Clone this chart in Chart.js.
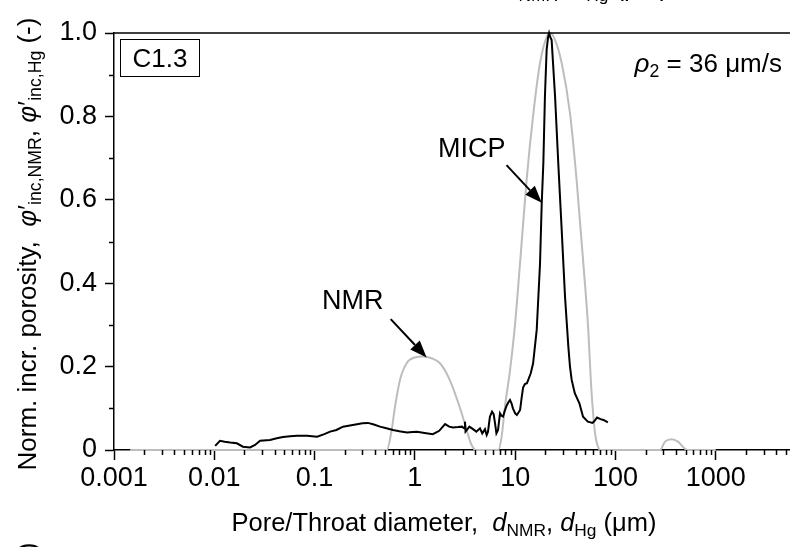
<!DOCTYPE html>
<html lang="en">
  <head>
    <meta charset="UTF-8" />
    <title>C1.3 NMR / MICP</title>
    <style>
      body { margin: 0; background: #fff; }
      .my-box {
        position: relative;
        width: 790px;
        height: 547px;
        overflow: hidden;
        font-family: "Liberation Sans", Arial, sans-serif;
        color: #000;
      }
      .lbl { position: absolute; white-space: nowrap; font-size: 26px; line-height: 1; }
      .lbl sub { font-size: 68%; vertical-align: -0.28em; line-height: 0; }
      .ytitle { left: 27px; top: 244px; transform: translate(-50%, -50%) rotate(-90deg); font-size: 26px; }
      .xtitle { left: 444px; top: 523px; transform: translate(-50%, -50%); font-size: 25.5px; }
      .box { left: 120px; top: 39px; width: 78px; height: 36px; border: 1.5px solid #000; text-align: center; line-height: 36px; }
    </style>
  </head>
  <body>
    <div class="my-box">
      <canvas id="myChart"></canvas>

      <div class="lbl ytitle">Norm. incr. porosity, &nbsp;<i>φ</i>′<sub>inc,NMR</sub>, <i>φ</i>′<sub>inc,Hg</sub> (-)</div>
      <div class="lbl xtitle">Pore/Throat diameter, &nbsp;<i>d</i><sub>NMR</sub>, <i>d</i><sub>Hg</sub> (μm)</div>
      <!-- bits of the neighbouring panels that the crop cuts through -->
      <div class="lbl xtitle" style="top: -12px; left: 456px">Pore/Throat diameter, &nbsp;<i>d</i><sub>NMR</sub>, <i>d</i><sub>Hg</sub> (μm)</div>
      <div class="lbl ytitle" style="top: 769px">Norm. incr. porosity, &nbsp;<i>φ</i>′<sub>inc,NMR</sub>, <i>φ</i>′<sub>inc,Hg</sub> (-)</div>

      <div class="lbl box">C1.3</div>
      <div class="lbl" style="right: 8px; top: 50px"><i>ρ</i><sub>2</sub> = 36 μm/s</div>
      <div class="lbl" style="left: 438px; top: 135px; font-size: 27px">MICP</div>
      <div class="lbl" style="left: 322px; top: 287px; font-size: 27px">NMR</div>
    </div>

    <script src="https://cdn.jsdelivr.net/npm/chart.js"></script>

    <script>
      // MICP (mercury intrusion), black
      const micpD = [
        0.0102, 0.0114, 0.0127, 0.0144, 0.0168, 0.0193, 0.0227, 0.0255, 0.0286, 0.0359,
        0.042, 0.0484, 0.057, 0.0668, 0.084, 0.106, 0.125, 0.143, 0.165, 0.192,
        0.225, 0.265, 0.3, 0.34, 0.39, 0.449, 0.52, 0.605, 0.7, 0.834,
        0.95, 1.05, 1.25, 1.51, 1.75, 2.0, 2.2, 2.4, 2.7, 2.95,
        3.1, 3.16, 3.2, 3.5, 3.8, 4.1, 4.46, 4.7, 5.0, 5.2,
        5.36, 5.6, 5.88, 6.1, 6.3, 6.5, 6.75, 7.06, 7.3, 7.57,
        7.9, 8.28, 8.6, 8.88, 9.2, 9.5, 10.0, 10.4, 10.8, 11.2,
        11.6, 12.0, 12.5, 13.1, 13.5, 14.3, 15.1, 16.4, 17.7, 18.4,
        19.1, 19.8, 20.6, 21.3, 21.8, 22.4, 23.1, 25.0, 26.9, 29.1,
        31.4, 33.9, 35.2, 36.6, 39.3, 43.7, 47.5, 53.0, 59.0, 62.0,
        65.5, 71.0, 76.0, 84.0,
      ];
      const micpPhi = [
        0.01, 0.022, 0.02, 0.018, 0.016, 0.008, 0.006, 0.012, 0.022, 0.024,
        0.028, 0.031, 0.033, 0.034, 0.034, 0.032, 0.038, 0.044, 0.048, 0.056,
        0.059, 0.062, 0.064, 0.065, 0.061, 0.056, 0.052, 0.048, 0.045, 0.042,
        0.043, 0.044, 0.041, 0.038, 0.046, 0.062, 0.056, 0.054, 0.055, 0.056,
        0.052, 0.068, 0.044, 0.056, 0.05, 0.044, 0.052, 0.04, 0.05, 0.036,
        0.044, 0.08, 0.092, 0.086, 0.064, 0.04, 0.048, 0.088, 0.082, 0.08,
        0.095, 0.108, 0.115, 0.12, 0.112, 0.1, 0.088, 0.084, 0.09, 0.096,
        0.125, 0.15, 0.158, 0.16, 0.168, 0.184, 0.208, 0.288, 0.448, 0.592,
        0.688, 0.847, 0.96, 0.99, 1.0, 0.99, 0.983, 0.847, 0.688, 0.528,
        0.368, 0.248, 0.2, 0.168, 0.136, 0.112, 0.08, 0.068, 0.065, 0.07,
        0.078, 0.074, 0.072, 0.066,
      ];

      // NMR (T2 converted to diameter), grey
      const nmrD = [
        0.00145, 0.524, 0.587, 0.634, 0.71, 0.828, 1.0, 1.21, 1.47, 1.78,
        2.15, 2.51, 2.93, 3.28, 3.68, 4.06, 6.79, 7.33, 7.91, 8.87,
        9.96, 11.2, 13.0, 15.2, 17.7, 20.6, 22.4, 25.0, 29.1, 35.2,
        41.0, 47.8, 53.6, 57.0, 60.5, 63.5, 67.0, 70.2, 278, 312,
        363, 420, 493, 520, 1000,
      ];
      const nmrPhi = [
        0, 0, 0.048, 0.104, 0.168, 0.208, 0.222, 0.224, 0.22, 0.208,
        0.176, 0.136, 0.088, 0.048, 0.012, 0, 0, 0.032, 0.104, 0.19,
        0.3, 0.45, 0.647, 0.808, 0.928, 0.99, 1.0, 0.983, 0.928, 0.808,
        0.647, 0.448, 0.288, 0.16, 0.075, 0.03, 0.008, 0, 0, 0.02,
        0.026, 0.02, 0.003, 0, 0,
      ];

      const xMajor = [0.001, 0.01, 0.1, 1, 10, 100, 1000];
      const yMajor = [0, 0.2, 0.4, 0.6, 0.8, 1.0];
      const yMinor = [0.1, 0.3, 0.5, 0.7, 0.9];

      // arrows: [from, to] in data units
      const arrows = [
        [[8.2, 0.683], [18.4, 0.593]],
        [[0.574, 0.314], [1.31, 0.222]],
      ];

      const toPoints = (xs, ys) => xs.map((v, i) => ({ x: v, y: ys[i] }));

      const extras = {
        id: "extras",
        afterDraw(chart) {
          const { ctx, chartArea, scales } = chart;
          const x = scales.x;
          const y = scales.y;
          ctx.save();
          ctx.strokeStyle = "#000";
          ctx.fillStyle = "#000";
          ctx.lineWidth = 1.5;

          ctx.beginPath();
          ctx.moveTo(chartArea.left, chartArea.top);
          ctx.lineTo(chartArea.right, chartArea.top);
          // minor ticks
          for (let e = -3; e <= 3; e++) {
            for (let m = 2; m <= 9; m++) {
              const v = m * Math.pow(10, e);
              if (v > x.max) continue;
              const px = Math.round(x.getPixelForValue(v)) + 0.5;
              ctx.moveTo(px, chartArea.bottom);
              ctx.lineTo(px, chartArea.bottom + 5);
            }
          }
          yMinor.forEach((v) => {
            const py = Math.round(y.getPixelForValue(v)) + 0.5;
            ctx.moveTo(chartArea.left, py);
            ctx.lineTo(chartArea.left - 5, py);
          });
          ctx.stroke();

          ctx.lineWidth = 2;
          arrows.forEach(([a, b]) => {
            const x1 = x.getPixelForValue(a[0]);
            const y1 = y.getPixelForValue(a[1]);
            const x2 = x.getPixelForValue(b[0]);
            const y2 = y.getPixelForValue(b[1]);
            const ang = Math.atan2(y2 - y1, x2 - x1);
            const len = 17;
            const hw = 6.5;
            const bx = x2 - len * Math.cos(ang);
            const by = y2 - len * Math.sin(ang);
            ctx.beginPath();
            ctx.moveTo(x1, y1);
            ctx.lineTo(bx, by);
            ctx.stroke();
            ctx.beginPath();
            ctx.moveTo(x2, y2);
            ctx.lineTo(bx + hw * Math.sin(ang), by - hw * Math.cos(ang));
            ctx.lineTo(bx - hw * Math.sin(ang), by + hw * Math.cos(ang));
            ctx.closePath();
            ctx.fill();
          });
          ctx.restore();
        },
      };

      const ctx = document.getElementById("myChart");

      new Chart(ctx, {
        type: "line",
        data: {
          datasets: [
            {
              label: "MICP",
              data: toPoints(micpD, micpPhi),
              borderColor: "#000",
              borderWidth: 2,
              pointRadius: 0,
              tension: 0,
              clip: false,
            },
            {
              label: "NMR",
              data: toPoints(nmrD, nmrPhi),
              borderColor: "#bdbdbd",
              borderWidth: 2,
              pointRadius: 0,
              cubicInterpolationMode: "monotone",
              clip: false,
            },
          ],
        },
        options: {
          responsive: true,
          maintainAspectRatio: false,
          animation: false,
          events: [],
          layout: { padding: { top: 33, left: 0, right: 0, bottom: 0 } },
          plugins: { legend: { display: false }, tooltip: { enabled: false } },
          scales: {
            x: {
              type: "logarithmic",
              min: 0.001,
              max: 5500,
              afterBuildTicks: (s) => {
                s.ticks = xMajor.map((v) => ({ value: v }));
              },
              afterFit: (s) => {
                s.height = 97;
              },
              border: { display: true, color: "#000", width: 1.5 },
              grid: { drawOnChartArea: false, tickLength: 10, tickColor: "#000", tickWidth: 1.5 },
              ticks: {
                color: "#000",
                padding: 2,
                maxRotation: 0,
                autoSkip: false,
                font: { family: "'Liberation Sans', Arial", size: 27 },
                callback: (v) => String(v),
              },
            },
            y: {
              min: 0,
              max: 1,
              afterBuildTicks: (s) => {
                s.ticks = yMajor.map((v) => ({ value: v }));
              },
              afterFit: (s) => {
                s.width = 114;
              },
              border: { display: true, color: "#000", width: 1.5 },
              grid: { drawOnChartArea: false, tickLength: 9, tickColor: "#000", tickWidth: 1.5 },
              ticks: {
                color: "#000",
                padding: 8,
                font: { family: "'Liberation Sans', Arial", size: 27 },
                callback: (v) => (v === 0 ? "0" : v.toFixed(1)),
              },
            },
          },
        },
        plugins: [extras],
      });
    </script>
  </body>
</html>
